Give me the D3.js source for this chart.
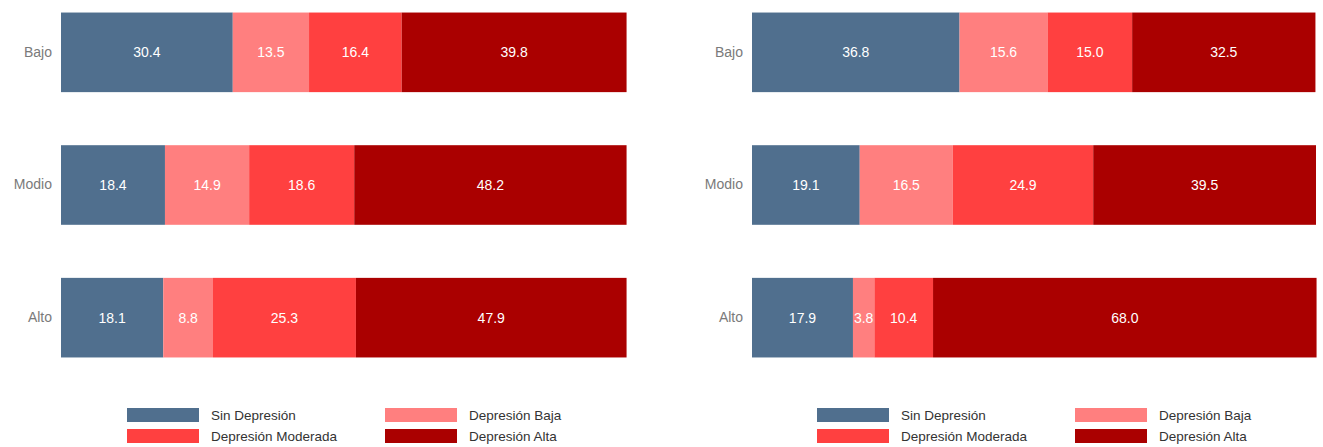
<!DOCTYPE html>
<html><head><meta charset="utf-8">
<script src="https://cdn.jsdelivr.net/npm/d3@7"></script>
<style>body{margin:0;background:#fff}svg{display:block}</style>
</head><body>
<svg id="c" width="1323" height="447"></svg>
<script>
const categories = ["Bajo", "Modio", "Alto"];
const seriesNames = ["Sin Depresión", "Depresión Baja", "Depresión Moderada", "Depresión Alta"];
const seriesColors = ["#506f8e", "#ff7f7f", "#ff4040", "#aa0000"];
// left panel values per category (series order)
const leftSin = [30.4, 18.4, 18.1];
const leftBaja = [13.5, 14.9, 8.8];
const leftModerada = [16.4, 18.6, 25.3];
const leftAlta = [39.8, 48.2, 47.9];
// right panel
const rightSin = [36.8, 19.1, 17.9];
const rightBaja = [15.6, 16.5, 3.8];
const rightModerada = [15.0, 24.9, 10.4];
const rightAlta = [32.5, 39.5, 68.0];

const svg = d3.select("#c");
const FONT = "Liberation Sans, Arial, sans-serif";

function panel(x0, x1, series, legendX) {
  const x = d3.scaleLinear().domain([0, 100]).range([x0, x1]);
  const y = d3.scaleBand().domain(categories).range([-14, 384]).paddingInner(0.4).paddingOuter(0.2);
  const rows = categories.map((c, i) => {
    const r = {cat: c};
    seriesNames.forEach((s, j) => r[s] = series[j][i]);
    return r;
  });
  const stacked = d3.stack().keys(seriesNames)(rows);
  const g = svg.append("g");
  stacked.forEach((layer, j) => {
    layer.forEach(d => {
      g.append("rect")
        .attr("x", x(d[0])).attr("y", y(d.data.cat))
        .attr("width", x(d[1]) - x(d[0])).attr("height", y.bandwidth())
        .attr("fill", seriesColors[j]);
      g.append("text")
        .attr("x", (x(d[0]) + x(d[1])) / 2).attr("y", y(d.data.cat) + y.bandwidth() / 2)
        .attr("dy", "0.35em").attr("text-anchor", "middle")
        .attr("fill", "#fff").attr("font-family", FONT)
        .attr("font-size", 14).text((d[1] - d[0]).toFixed(1));
    });
  });
  const ax = g.append("g").attr("transform", `translate(${x0},0)`)
    .call(d3.axisLeft(y).tickSize(0).tickPadding(9));
  ax.select(".domain").remove();
  ax.selectAll("text").attr("fill", "#7a7a7a").attr("font-size", 14)
    .attr("font-family", FONT);
  // legend
  const lg = svg.append("g");
  const pos = [[0, 0], [258, 0], [0, 21], [258, 21]];
  seriesNames.forEach((s, j) => {
    const [dx, dy] = pos[j];
    lg.append("rect").attr("x", legendX + dx).attr("y", 408 + dy)
      .attr("width", 72).attr("height", 14).attr("fill", seriesColors[j]);
    lg.append("text").attr("x", legendX + dx + 84).attr("y", 415 + dy)
      .attr("dy", "0.35em").attr("font-size", 13.5).attr("fill", "#333")
      .attr("font-family", FONT).text(s);
  });
}

panel(61, 626, [leftSin, leftBaja, leftModerada, leftAlta], 127);
panel(752, 1316, [rightSin, rightBaja, rightModerada, rightAlta], 817);
</script>
</body></html>
